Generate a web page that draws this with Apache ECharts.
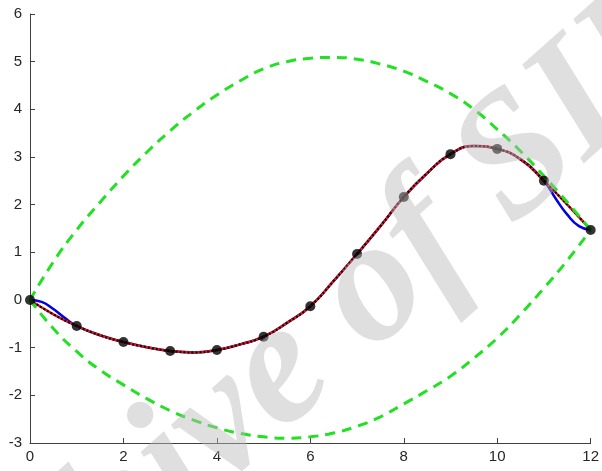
<!DOCTYPE html>
<html>
<head>
<meta charset="utf-8">
<script src="https://cdn.jsdelivr.net/npm/echarts@6/dist/echarts.min.js"></script>
<style>html,body{margin:0;padding:0;background:#fff}#c{width:602px;height:471px}</style>
</head>
<body>
<div id="c"></div>
<script>
// black sample points
const xs = [0, 1, 2, 3, 4, 5, 6, 7, 8, 9, 10, 11, 12];
const pointY = [0, -0.545, -0.88, -1.07, -1.05, -0.77, -0.13, 0.965, 2.16, 3.06, 3.17, 2.5, 1.47];
// red (and black dotted) curve, read at half steps
const curveX = [0, 0.5, 1, 1.5, 2, 2.5, 3, 3.5, 4, 4.5, 5, 5.5, 6, 6.5, 7, 7.5, 8, 8.5, 9, 9.5, 10, 10.5, 11, 11.5, 12];
const redY = [0, -0.3, -0.545, -0.74, -0.88, -0.99, -1.07, -1.1, -1.05, -0.93, -0.77, -0.48, -0.13, 0.4, 0.965, 1.55, 2.16, 2.66, 3.06, 3.23, 3.17, 2.95, 2.5, 2.0, 1.47];
// blue curve (differs from the red one near both ends)
const blueX = [0, 0.25, 0.5, 0.75, 1, 1.5, 2, 2.5, 3, 3.5, 4, 4.5, 5, 5.5, 6, 6.5, 7, 7.5, 8, 8.5, 9, 9.5, 10, 10.5, 11, 11.25, 11.5, 11.75, 12];
const blueY = [0, -0.04, -0.19, -0.38, -0.545, -0.74, -0.88, -0.99, -1.07, -1.1, -1.05, -0.93, -0.77, -0.48, -0.13, 0.4, 0.965, 1.55, 2.16, 2.66, 3.06, 3.23, 3.17, 2.95, 2.5, 2.13, 1.79, 1.55, 1.47];
// upper and lower green dashed envelopes
const upperY = [0, 0.8, 1.47, 2.05, 2.6, 3.1, 3.55, 3.95, 4.3, 4.6, 4.85, 5.0, 5.07, 5.09, 5.05, 4.95, 4.8, 4.58, 4.33, 4.0, 3.58, 3.12, 2.6, 2.05, 1.47];
const lowerY = [0, -0.6, -1.08, -1.47, -1.78, -2.07, -2.32, -2.52, -2.68, -2.8, -2.87, -2.9, -2.87, -2.79, -2.65, -2.45, -2.18, -1.9, -1.6, -1.22, -0.8, -0.3, 0.25, 0.83, 1.47];
// axis ticks [min, max, step]
const xTicks = [0, 12, 2];
const yTicks = [-3, 6, 1];

const pairs = (x, y) => x.map((v, i) => [v, y[i]]);

const chart = echarts.init(document.getElementById('c'));
const axisText = {color: '#262626', fontFamily: 'Liberation Sans, Arial, sans-serif', fontSize: 15};
const axisCommon = {
  axisLine: {show: true, onZero: false, lineStyle: {color: '#404040', width: 1}},
  axisTick: {show: true, inside: true, length: 5, lineStyle: {color: '#404040'}},
  splitLine: {show: false}
};
chart.setOption({
  animation: false,
  backgroundColor: '#fff',
  grid: {left: 30, right: 4, top: 14, bottom: 28},
  xAxis: Object.assign({
    type: 'value', min: xTicks[0], max: xTicks[1], interval: xTicks[2],
    axisLabel: Object.assign({margin: 6, showMaxLabel: true, showMinLabel: true}, axisText)
  }, axisCommon),
  yAxis: Object.assign({
    type: 'value', min: yTicks[0], max: yTicks[1], interval: yTicks[2],
    axisLabel: Object.assign({margin: 8}, axisText)
  }, axisCommon),
  series: [
    {type: 'line', data: pairs(blueX, blueY), smooth: true, showSymbol: false,
     lineStyle: {color: '#0000e0', width: 2.5}, z: 2},
    {type: 'line', data: pairs(curveX, redY), smooth: true, showSymbol: false,
     lineStyle: {color: '#e41a1a', width: 2.5}, z: 3},
    {type: 'line', data: pairs(curveX, redY), smooth: true, showSymbol: false,
     lineStyle: {color: '#000', width: 2, type: [2, 2]}, z: 4},
    {type: 'line', data: pairs(curveX, upperY), smooth: true, showSymbol: false,
     lineStyle: {color: '#22e022', width: 3, type: [10, 7]}, z: 5},
    {type: 'line', data: pairs(curveX, lowerY), smooth: true, showSymbol: false,
     lineStyle: {color: '#22e022', width: 3, type: [10, 7]}, z: 5},
    {type: 'scatter', data: pairs(xs, pointY), symbol: 'circle', symbolSize: 10,
     itemStyle: {color: '#000'}, z: 6}
  ],
  graphic: [{
    type: 'text', x: 294, y: 362, rotation: 0.73, z: 100, silent: true,
    style: {
      text: 'Archive of SID',
      font: 'italic bold 175px "Liberation Serif", serif',
      fill: 'rgba(185,185,185,0.46)',
      textAlign: 'center', textVerticalAlign: 'middle'
    }
  }]
});
</script>
</body>
</html>
